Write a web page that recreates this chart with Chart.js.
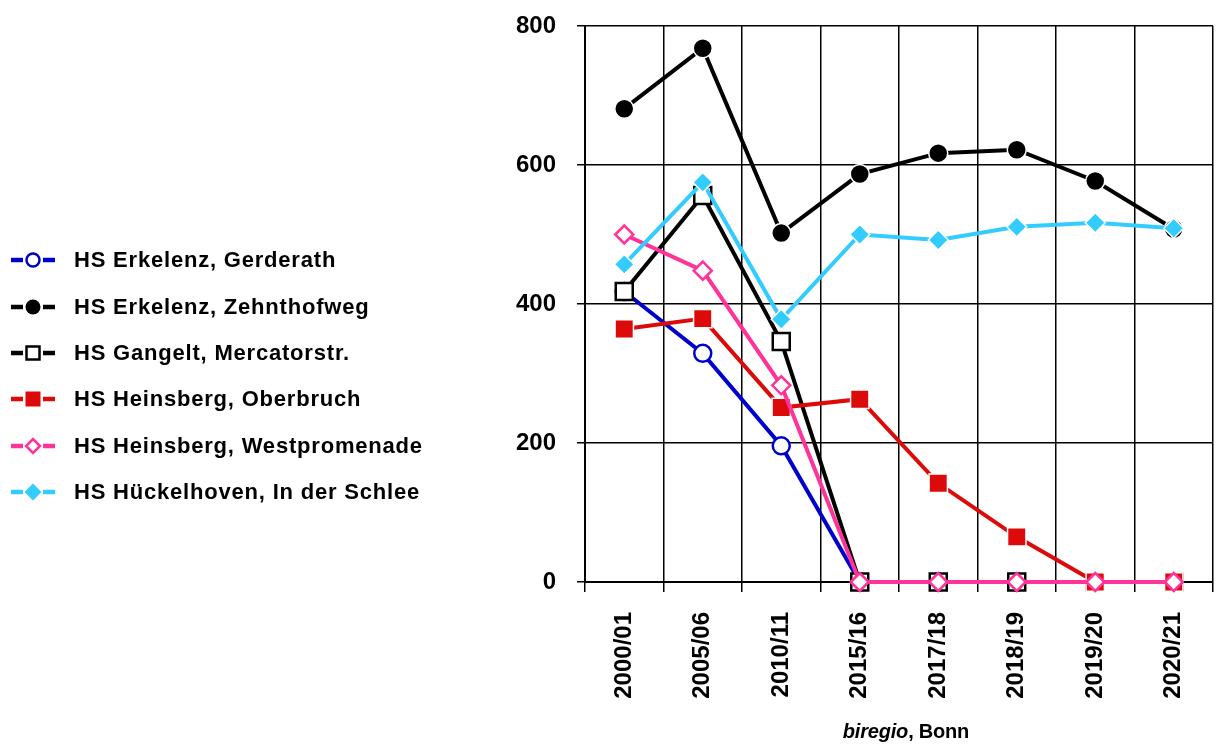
<!DOCTYPE html>
<html><head><meta charset="utf-8">
<script src="https://cdn.jsdelivr.net/npm/chart.js@4"></script>
<style>
html,body{margin:0;padding:0;background:#fff;}
#wrap{position:relative;width:1216px;height:746px;overflow:hidden;}
#c{position:absolute;left:0;top:0;}
.item{position:absolute;left:10px;height:30px;display:flex;align-items:center;font:bold 22px "Liberation Sans",Arial,sans-serif;letter-spacing:0.8px;color:#000;white-space:nowrap;}
.item svg{margin-right:18px;flex:none;}
#src{position:absolute;left:806px;width:200px;top:720px;text-align:center;font:bold 20px "Liberation Sans",Arial,sans-serif;letter-spacing:-0.2px;color:#000;}
</style></head>
<body>
<div id="wrap">
<canvas id="c" width="1216" height="746"></canvas>
<div id="legend"></div>
<div id="src"><i>biregio</i>, Bonn</div>
</div>
<script>
const categories = ['2000/01','2005/06','2010/11','2015/16','2017/18','2018/19','2019/20','2020/21'];
const yTicks = [0, 200, 400, 600, 800];
const seriesNames = ['HS Erkelenz, Gerderath','HS Erkelenz, Zehnthofweg','HS Gangelt, Mercatorstr.','HS Heinsberg, Oberbruch','HS Heinsberg, Westpromenade','HS Hückelhoven, In der Schlee'];
const gerderath     = [418, 329, 196, 0, 0, 0, 0, 0];
const zehnthofweg   = [681, 768, 502, 587, 617, 622, 577, 508];
const gangelt       = [418, 556, 346, 0, 0, 0, 0, 0];
const oberbruch     = [364, 379, 251, 263, 142, 65, 0, 0];
const westpromenade = [500, 448, 283, 0, 0, 0, 0, 0];
const hueckelhoven  = [457, 575, 378, 500, 492, 511, 517, 509];

const styles = [
  {color:'#0000CC', style:'circle', open:true, r:8.5, order:5},
  {color:'#000000', style:'circle', open:false, r:9.5, order:4},
  {color:'#000000', style:'rect', open:true, r:12, order:3},
  {color:'#DD0A0A', style:'rect', open:false, r:13, order:2},
  {color:'#FF3399', style:'rectRot', open:true, r:9, order:1},
  {color:'#33CCFF', style:'rectRot', open:false, r:10, order:0}
];
const values = [gerderath, zehnthofweg, gangelt, oberbruch, westpromenade, hueckelhoven];

const datasets = values.map((v,i)=>{
  const s = styles[i];
  return {
    label: seriesNames[i],
    data: v,
    order: s.order,
    clip: false,
    borderColor: s.color,
    borderWidth: 4,
    tension: 0,
    fill: false,
    pointStyle: s.style,
    pointRadius: s.r,
    pointBackgroundColor: s.open ? '#FFFFFF' : s.color,
    pointBorderColor: s.open ? s.color : '#FFFFFF',
    pointBorderWidth: s.open ? 2.5 : 1.5
  };
});

function zeroPad(s){ s.paddingTop = 0; s.paddingBottom = 0; s.paddingLeft = 0; s.paddingRight = 0; }

const font = '"Liberation Sans", Arial, sans-serif';
new Chart(document.getElementById('c'), {
  type: 'line',
  data: { labels: categories, datasets },
  options: {
    responsive: false,
    animation: false,
    events: [],
    layout: { autoPadding: false, padding: { left: 500, right: 3, top: 26, bottom: 0 } },
    plugins: { legend: { display: false }, tooltip: { enabled: false } },
    scales: {
      x: {
        offset: true,
        grid: { offset: true, color: '#000', lineWidth: 1.5, tickLength: 10, drawTicks: true },
        border: { color: '#000', width: 2 },
        ticks: { autoSkip: false, maxRotation: 90, minRotation: 90, padding: 20, color: '#000', font: { family: font, size: 24, weight: 'bold' } },
        afterFit: (s) => { s.height = 164; zeroPad(s); }
      },
      y: {
        min: 0, max: 800,
        afterBuildTicks: (s) => { s.ticks = yTicks.map(v => ({ value: v })); },
        grid: { color: '#000', lineWidth: 1.5, tickLength: 8 },
        border: { color: '#000', width: 2 },
        ticks: { padding: 21, color: '#000', font: { family: font, size: 24, weight: 'bold' } },
        afterFit: (s) => { s.width = 85; zeroPad(s); }
      }
    }
  }
});

// HTML legend
const rowCenters = [260, 307, 353, 399, 446, 492];
const legend = document.getElementById('legend');
function markerSvg(s){
  const c = s.color;
  let m = '';
  if (s.style === 'circle') {
    m = s.open ? `<circle cx="23" cy="15" r="6.5" fill="#fff" stroke="${c}" stroke-width="2.5"/>`
               : `<circle cx="23" cy="15" r="7.5" fill="${c}"/>`;
  } else if (s.style === 'rect') {
    m = s.open ? `<rect x="16.5" y="8.5" width="13" height="13" fill="#fff" stroke="${c}" stroke-width="2.5"/>`
               : `<rect x="15.5" y="7.5" width="15" height="15" fill="${c}"/>`;
  } else {
    m = s.open ? `<polygon points="23,8 30,15 23,22 16,15" fill="#fff" stroke="${c}" stroke-width="2.5"/>`
               : `<polygon points="23,6.5 31.5,15 23,23.5 14.5,15" fill="${c}"/>`;
  }
  return `<svg width="46" height="30" viewBox="0 0 46 30"><line x1="1" y1="15" x2="13" y2="15" stroke="${c}" stroke-width="4.5"/><line x1="33" y1="15" x2="45" y2="15" stroke="${c}" stroke-width="4.5"/>${m}</svg>`;
}
seriesNames.forEach((name,i)=>{
  const d = document.createElement('div');
  d.className = 'item';
  d.style.top = (rowCenters[i]-15) + 'px';
  d.innerHTML = markerSvg(styles[i]) + '<span>' + name + '</span>';
  legend.appendChild(d);
});
</script>
</body></html>
